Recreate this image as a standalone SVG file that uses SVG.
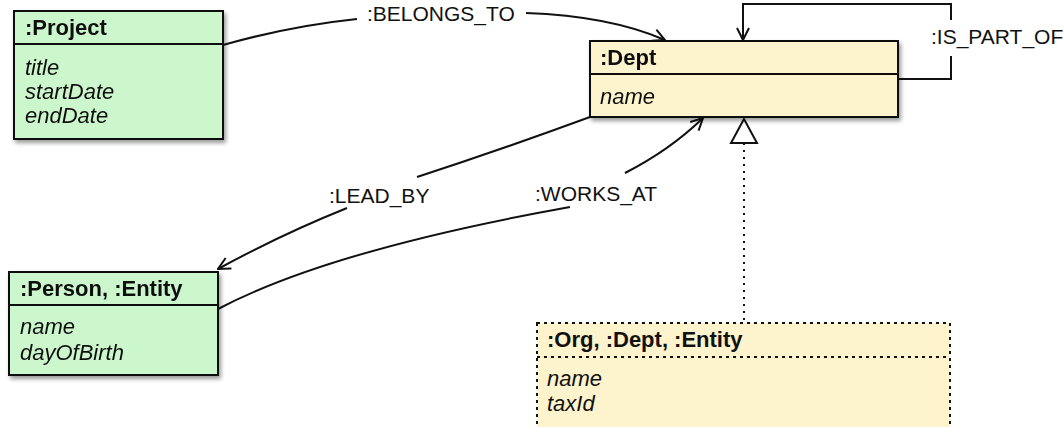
<svg xmlns="http://www.w3.org/2000/svg" width="1064" height="427" viewBox="0 0 1064 427">
  <style>
    text { font-family: "Liberation Sans", Arial, sans-serif; font-size: 21px; fill: #111; }
    .title { font-weight: bold; font-size: 22px; }
    .attr { font-style: italic; font-size: 22px; }
    .box { stroke: #111; stroke-width: 2; }
    .green { fill: #ccf7cc; }
    .yellow { fill: #fdf3cd; }
    .dashed { stroke-dasharray: 3 4; }
    .edge { fill: none; stroke: #111; stroke-width: 2; }
  </style>
  <defs>
    <filter id="shadow" x="-10%" y="-10%" width="130%" height="130%">
      <feGaussianBlur in="SourceAlpha" stdDeviation="2"/>
      <feOffset dx="2" dy="3" result="b"/>
      <feComponentTransfer><feFuncA type="linear" slope="0.4"/></feComponentTransfer>
      <feMerge><feMergeNode/><feMergeNode in="SourceGraphic"/></feMerge>
    </filter>
    <marker id="open" viewBox="0 0 14 14" refX="13" refY="7" markerWidth="14" markerHeight="14" markerUnits="userSpaceOnUse" orient="auto">
      <path d="M1,1 L13,7 L1,13" fill="none" stroke="#111" stroke-width="2"/>
    </marker>
  </defs>

  <!-- connectors -->
  <g id="connectors">
    <!-- BELONGS_TO -->
    <path class="edge" d="M223,45 Q290,26 357,19"/>
    <path class="edge" d="M526,13 Q610,16 665,40" marker-end="url(#open)"/>
    <text x="367" y="21">:BELONGS_TO</text>
    <!-- IS_PART_OF self loop -->
    <path class="edge" d="M898,79 H951 V56"/>
    <path class="edge" d="M951,20 V4 H743 V40" marker-end="url(#open)"/>
    <text x="931" y="44">:IS_PART_OF</text>
    <!-- LEAD_BY -->
    <path class="edge" d="M590,117 Q500,150 417,177"/>
    <path class="edge" d="M347,208 Q280,235 218,269" marker-end="url(#open)"/>
    <text x="329" y="203">:LEAD_BY</text>
    <!-- WORKS_AT -->
    <path class="edge" d="M218,309 Q330,250 570,207"/>
    <path class="edge" d="M625,173 Q670,150 703,118" marker-end="url(#open)"/>
    <text x="535" y="201">:WORKS_AT</text>
    <!-- generalization Org -> Dept -->
    <path class="edge" d="M744,143 V323" stroke-dasharray="2 5"/>
    <path d="M744,119 L731,143 H757 Z" fill="#fff" stroke="#111" stroke-width="2"/>
  </g>

  <!-- :Project -->
  <g id="project" filter="url(#shadow)">
    <rect class="box green" x="14" y="11" width="209" height="128"/>
    <line class="box" x1="14" y1="44" x2="223" y2="44"/>
    <text class="title" x="25" y="35">:Project</text>
    <text class="attr" x="25" y="75">title</text>
    <text class="attr" x="25" y="99">startDate</text>
    <text class="attr" x="25" y="123">endDate</text>
  </g>

  <!-- :Dept -->
  <g id="dept" filter="url(#shadow)">
    <rect class="box yellow" x="590" y="41" width="308" height="76"/>
    <line class="box" x1="590" y1="74" x2="898" y2="74"/>
    <text class="title" x="600" y="65">:Dept</text>
    <text class="attr" x="600" y="104">name</text>
  </g>

  <!-- :Person, :Entity -->
  <g id="person" filter="url(#shadow)">
    <rect class="box green" x="9" y="272" width="209" height="103"/>
    <line class="box" x1="9" y1="305" x2="218" y2="305"/>
    <text class="title" x="20" y="296">:Person, :Entity</text>
    <text class="attr" x="20" y="334">name</text>
    <text class="attr" x="20" y="360">dayOfBirth</text>
  </g>

  <!-- :Org, :Dept, :Entity -->
  <g id="org">
    <rect class="box yellow dashed" x="537" y="323" width="413" height="110"/>
    <line class="box dashed" x1="537" y1="357" x2="950" y2="357"/>
    <text class="title" x="547" y="347">:Org, :Dept, :Entity</text>
    <text class="attr" x="547" y="386">name</text>
    <text class="attr" x="547" y="411">taxId</text>
  </g>
</svg>
